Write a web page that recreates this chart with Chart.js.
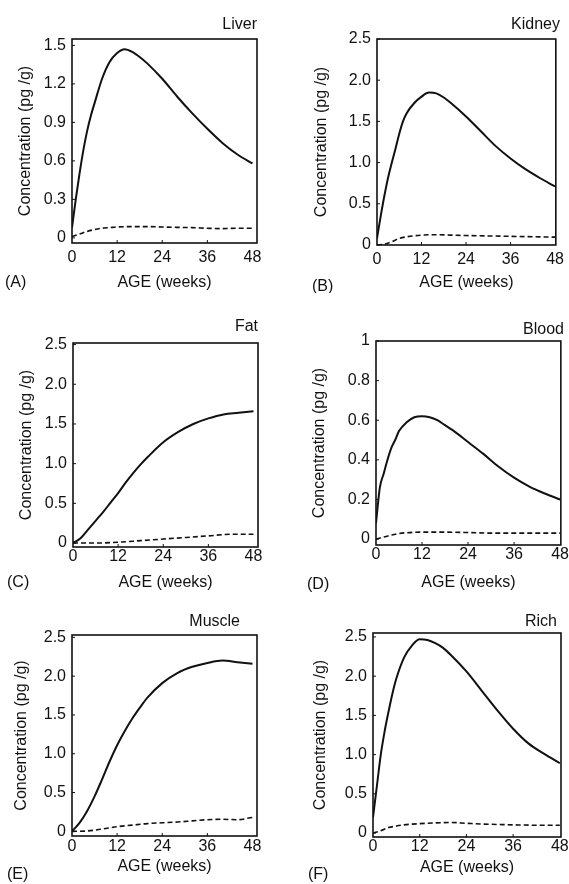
<!DOCTYPE html>
<html>
<head>
<meta charset="utf-8">
<script src="https://cdn.jsdelivr.net/npm/chart.js@4/dist/chart.umd.min.js"></script>
<style>
  body { margin: 0; background: #fff; width: 569px; height: 884px; position: relative; overflow: hidden; }
  canvas { position: absolute; }
</style>
</head>
<body>
<canvas id="pA"></canvas>
<canvas id="pB"></canvas>
<canvas id="pC"></canvas>
<canvas id="pD"></canvas>
<canvas id="pE"></canvas>
<canvas id="pF"></canvas>
<script>
// --- datos (semanas / pg/g) ---
const xTicks = [0, 12, 24, 36, 48];

const liverWeeks = [0, 1, 2, 3, 4, 5, 6, 8, 10, 12, 14, 16, 18, 20, 24, 28, 32, 36, 40, 44, 48];
const liverSolid = [0.08, 0.3, 0.5, 0.68, 0.83, 0.95, 1.05, 1.24, 1.37, 1.44, 1.47, 1.45, 1.41, 1.36, 1.24, 1.10, 0.97, 0.85, 0.74, 0.65, 0.58];
const liverDashWeeks = [0, 2, 4, 6, 8, 10, 12, 16, 20, 24, 28, 32, 36, 40, 44, 48];
const liverDash = [0.01, 0.03, 0.05, 0.065, 0.075, 0.08, 0.085, 0.088, 0.088, 0.085, 0.082, 0.08, 0.075, 0.072, 0.075, 0.075];
const liverTicks = [0, 0.3, 0.6, 0.9, 1.2, 1.5];
const liverLabels = ['0', '0.3', '0.6', '0.9', '1.2', '1.5'];

const kidneyWeeks = [0, 1, 2, 3, 4, 5, 6, 7, 8, 10, 12, 14, 16, 18, 20, 24, 28, 32, 36, 40, 44, 48];
const kidneySolid = [0.08, 0.35, 0.6, 0.82, 1.0, 1.17, 1.35, 1.5, 1.6, 1.72, 1.8, 1.85, 1.84, 1.79, 1.72, 1.56, 1.38, 1.2, 1.05, 0.92, 0.81, 0.71];
const kidneyDashWeeks = [0, 2, 4, 6, 8, 12, 16, 20, 24, 30, 36, 42, 48];
const kidneyDash = [0, 0.01, 0.04, 0.08, 0.1, 0.12, 0.125, 0.12, 0.115, 0.11, 0.105, 0.1, 0.095];
const halfTicks = [0, 0.5, 1.0, 1.5, 2.0, 2.5];
const halfLabels = ['0', '0.5', '1.0', '1.5', '2.0', '2.5'];

const fatWeeks = [0, 2, 4, 6, 8, 10, 12, 14, 16, 18, 20, 24, 28, 32, 36, 40, 44, 48];
const fatSolid = [0, 0.06, 0.17, 0.28, 0.39, 0.51, 0.63, 0.76, 0.88, 0.99, 1.09, 1.27, 1.40, 1.50, 1.57, 1.62, 1.64, 1.66];
const fatDashWeeks = [0, 6, 12, 18, 24, 30, 36, 42, 48];
const fatDash = [0, 0, 0.01, 0.03, 0.05, 0.07, 0.09, 0.11, 0.11];

const bloodWeeks = [0, 1, 2, 3, 4, 5, 6, 8, 10, 12, 14, 16, 18, 20, 24, 28, 32, 36, 40, 44, 48];
const bloodSolid = [0.08, 0.26, 0.33, 0.4, 0.46, 0.5, 0.545, 0.59, 0.615, 0.62, 0.615, 0.6, 0.575, 0.55, 0.49, 0.43, 0.365, 0.31, 0.265, 0.23, 0.2];
const bloodDashWeeks = [0, 2, 4, 6, 8, 12, 18, 24, 30, 36, 42, 48];
const bloodDash = [0, 0.01, 0.02, 0.028, 0.032, 0.035, 0.035, 0.033, 0.03, 0.03, 0.03, 0.03];
const bloodTicks = [0, 0.2, 0.4, 0.6, 0.8, 1];
const bloodLabels = ['0', '0.2', '0.4', '0.6', '0.8', '1'];

const muscleWeeks = [0, 2, 4, 6, 8, 10, 12, 14, 16, 18, 20, 24, 28, 32, 36, 40, 44, 48];
const muscleSolid = [0, 0.11, 0.26, 0.45, 0.67, 0.9, 1.11, 1.29, 1.45, 1.59, 1.72, 1.91, 2.04, 2.12, 2.17, 2.2, 2.18, 2.16];
const muscleDashWeeks = [0, 4, 8, 12, 16, 20, 24, 28, 32, 36, 40, 44, 48];
const muscleDash = [0, 0.005, 0.03, 0.06, 0.08, 0.1, 0.11, 0.12, 0.135, 0.15, 0.155, 0.15, 0.18];

const richWeeks = [0, 1, 2, 3, 4, 5, 6, 8, 10, 12, 14, 16, 18, 20, 24, 28, 32, 36, 40, 44, 48];
const richSolid = [0.2, 0.6, 1.0, 1.3, 1.55, 1.78, 1.97, 2.24, 2.39, 2.47, 2.46, 2.42, 2.36, 2.27, 2.06, 1.81, 1.56, 1.33, 1.14, 1.01, 0.89];
const richDashWeeks = [0, 2, 4, 6, 8, 12, 16, 20, 24, 28, 32, 36, 42, 48];
const richDash = [0, 0.03, 0.07, 0.09, 0.105, 0.12, 0.13, 0.135, 0.125, 0.115, 0.11, 0.105, 0.1, 0.1];

const INK = '#111';
const FONT = { family: '"Liberation Sans", Arial, sans-serif', size: 16 };
Chart.defaults.font.family = FONT.family;
Chart.defaults.color = INK;

// marco, marcas cortas y textos del panel
const panelText = {
    id: 'panelText',
    afterDraw(chart, args, opts) {
        const ctx = chart.ctx, a = chart.chartArea;
        const sx = chart.scales.x, sy = chart.scales.y;
        ctx.save();
        ctx.strokeStyle = INK;
        ctx.lineWidth = 1.6;
        ctx.strokeRect(a.left, a.top, a.right - a.left, a.bottom - a.top);
        ctx.lineWidth = 1;
        ctx.beginPath();
        xTicks.slice(1, -1).forEach(v => {
            const px = sx.getPixelForValue(v);
            ctx.moveTo(px, a.bottom); ctx.lineTo(px, a.bottom - 3);
        });
        sy.ticks.forEach(t => {
            const py = sy.getPixelForValue(t.value);
            ctx.moveTo(a.left, py); ctx.lineTo(a.left + 3, py);
        });
        ctx.stroke();
        ctx.fillStyle = INK;
        ctx.font = FONT.size + 'px ' + FONT.family;
        ctx.textBaseline = 'middle';
        ctx.textAlign = 'right';
        ctx.fillText(opts.name, opts.nameX, opts.nameY);
        ctx.textAlign = 'left';
        ctx.fillText(opts.letter, opts.letterX, opts.letterY);
        ctx.restore();
    }
};

function pts(xs, ys) {
    return xs.map((x, i) => ({ x: x, y: ys[i] }));
}

function makePanel(id, p) {
    const el = document.getElementById(id);
    el.width = p.w; el.height = p.h;
    el.style.left = p.x + 'px';
    el.style.top = p.y + 'px';

    new Chart(el, {
        type: 'line',
        data: {
            datasets: [
                { data: pts(p.weeks, p.solid), borderColor: INK, borderWidth: 2, pointRadius: 0, cubicInterpolationMode: 'monotone', fill: false },
                { data: pts(p.dashWeeks, p.dash), borderColor: INK, borderWidth: 1.6, borderDash: [5, 3], pointRadius: 0, cubicInterpolationMode: 'monotone', fill: false }
            ]
        },
        options: {
            responsive: false,
            animation: false,
            events: [],
            layout: { padding: { left: 0, top: p.box.T - p.y, right: p.x + p.w - p.box.R, bottom: 0 } },
            plugins: {
                legend: { display: false },
                tooltip: { enabled: false },
                panelText: {
                    name: p.name, nameX: p.nameR - p.x, nameY: p.nameY - p.y,
                    letter: p.letter, letterX: p.letterX - p.x, letterY: p.letterY - p.y
                }
            },
            scales: {
                x: {
                    type: 'linear', min: 0, max: p.xMax,
                    afterBuildTicks: s => { s.ticks = xTicks.map(v => ({ value: v })); },
                    afterFit: s => { s.height = p.y + p.h - p.box.B; },
                    grid: { display: false, drawTicks: false },
                    border: { display: false },
                    ticks: { padding: p.xPad, maxRotation: 0, autoSkip: false, font: FONT, color: INK, callback: v => String(v) },
                    title: { display: true, text: 'AGE (weeks)', font: FONT, color: INK, padding: { top: 0, bottom: p.y + p.h - 9.6 - p.xTitleY } }
                },
                y: {
                    min: p.yMin, max: p.yMax,
                    afterBuildTicks: s => { s.ticks = p.yTicks.map(v => ({ value: v })); },
                    afterFit: s => { s.width = p.box.L - p.x; },
                    grid: { display: false, drawTicks: false },
                    border: { display: false },
                    ticks: { padding: 6, autoSkip: false, font: FONT, color: INK, callback: (v, i) => p.yLabels[i] },
                    title: { display: true, text: 'Concentration (pg /g)', font: FONT, color: INK, padding: { top: p.yTitleX - p.x - 9.6, bottom: 0 } }
                }
            }
        },
        plugins: [panelText]
    });
}

makePanel('pA', {
    x: 0, y: 0, w: 284, h: 293, box: { L: 72, T: 39, R: 257, B: 243 },
    weeks: liverWeeks, solid: liverSolid, dashWeeks: liverDashWeeks, dash: liverDash,
    yMin: -0.04, yMax: 1.55, yTicks: liverTicks, yLabels: liverLabels, xMax: 49.2,
    name: 'Liver', nameR: 257, nameY: 25, letter: '(A)', letterX: 5, letterY: 283,
    yTitleX: 26, xTitleY: 283, xPad: 5
});
makePanel('pB', {
    x: 285, y: 0, w: 284, h: 293, box: { L: 377, T: 39, R: 563, B: 245 },
    weeks: kidneyWeeks, solid: kidneySolid, dashWeeks: kidneyDashWeeks, dash: kidneyDash,
    yMin: 0, yMax: 2.5, yTicks: halfTicks, yLabels: halfLabels, xMax: 48.2,
    name: 'Kidney', nameR: 560, nameY: 25, letter: '(B)', letterX: 312, letterY: 287,
    yTitleX: 322, xTitleY: 283, xPad: 5
});
makePanel('pC', {
    x: 0, y: 293, w: 284, h: 300, box: { L: 73, T: 343, R: 258, B: 547 },
    weeks: fatWeeks, solid: fatSolid, dashWeeks: fatDashWeeks, dash: fatDash,
    yMin: -0.05, yMax: 2.52, yTicks: halfTicks, yLabels: halfLabels, xMax: 49.2,
    name: 'Fat', nameR: 258, nameY: 327, letter: '(C)', letterX: 7, letterY: 583,
    yTitleX: 27, xTitleY: 583, xPad: 0
});
makePanel('pD', {
    x: 285, y: 293, w: 284, h: 300, box: { L: 376, T: 341, R: 563, B: 545 },
    weeks: bloodWeeks, solid: bloodSolid, dashWeeks: bloodDashWeeks, dash: bloodDash,
    yMin: -0.03, yMax: 1.0, yTicks: bloodTicks, yLabels: bloodLabels, xMax: 48.2,
    name: 'Blood', nameR: 564, nameY: 330, letter: '(D)', letterX: 307, letterY: 585,
    yTitleX: 320, xTitleY: 583, xPad: 0
});
makePanel('pE', {
    x: 0, y: 593, w: 284, h: 291, box: { L: 72, T: 635, R: 257, B: 836 },
    weeks: muscleWeeks, solid: muscleSolid, dashWeeks: muscleDashWeeks, dash: muscleDash,
    yMin: -0.06, yMax: 2.53, yTicks: halfTicks, yLabels: halfLabels, xMax: 49.2,
    name: 'Muscle', nameR: 240, nameY: 622, letter: '(E)', letterX: 7, letterY: 875,
    yTitleX: 22, xTitleY: 867, xPad: 1
});
makePanel('pF', {
    x: 285, y: 593, w: 284, h: 291, box: { L: 373, T: 633, R: 561, B: 837 },
    weeks: richWeeks, solid: richSolid, dashWeeks: richDashWeeks, dash: richDash,
    yMin: -0.05, yMax: 2.55, yTicks: halfTicks, yLabels: halfLabels, xMax: 48.3,
    name: 'Rich', nameR: 557, nameY: 622, letter: '(F)', letterX: 308, letterY: 875,
    yTitleX: 321, xTitleY: 868, xPad: 0
});
</script>
</body>
</html>
